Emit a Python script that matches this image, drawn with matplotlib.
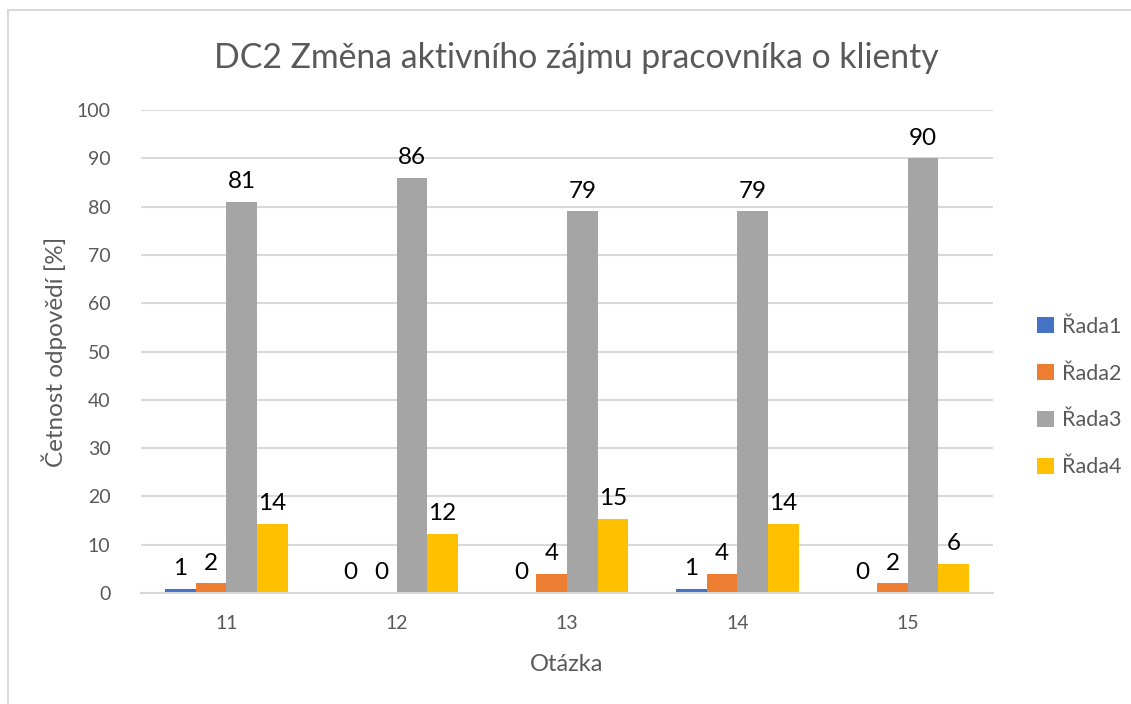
import matplotlib.pyplot as plt
import numpy as np
from matplotlib.patches import Rectangle

# data
questions = ["11", "12", "13", "14", "15"]
series_names = ["Řada1", "Řada2", "Řada3", "Řada4"]
rada1 = [0.9, 0, 0, 0.9, 0]
rada2 = [2.0, 0, 4.0, 4.0, 2.0]
rada3 = [81, 86, 79, 79, 90]
rada4 = [14.3, 12.2, 15.3, 14.3, 6.1]
colors = ["#4472C4", "#ED7D31", "#A5A5A5", "#FFC000"]

plt.rcParams['font.family'] = ['Lato', 'DejaVu Sans']
text_gray = "#595959"
grid_gray = "#D9D9D9"

fig = plt.figure(figsize=(11.31, 7.04), dpi=100)
ax = fig.add_axes([0.1247, 0.1577, 0.7533, 0.686])

# chart border like an exported office chart
fig.patches.append(Rectangle((8 / 1131, -0.1), 1.2, 1.1 - 10 / 704,
                             transform=fig.transFigure, fill=False,
                             edgecolor=grid_gray, linewidth=1.5))

x = np.arange(len(questions))
width = 0.18
all_series = [rada1, rada2, rada3, rada4]
for i, vals in enumerate(all_series):
    offset = (i - 1.5) * width
    bars = ax.bar(x + offset, vals, width, color=colors[i], label=series_names[i])
    ax.bar_label(bars, labels=["%.0f" % v for v in vals], padding=7,
                 fontsize=17.5, color="#000000")

ax.set_xlim(-0.5, len(questions) - 0.5)
ax.set_ylim(0, 100)
ax.set_yticks(range(0, 101, 10))
ax.set_xticks(x)
ax.set_xticklabels(questions)
ax.tick_params(axis='both', length=0, labelsize=14, colors=text_gray)
ax.tick_params(axis='y', pad=22)
ax.tick_params(axis='x', pad=16)
ax.yaxis.grid(True, color=grid_gray, linewidth=1.5)
ax.set_axisbelow(True)
for s in ["top", "right", "left"]:
    ax.spines[s].set_visible(False)
ax.spines["bottom"].set_color(grid_gray)
ax.spines["bottom"].set_linewidth(1.5)

ax.set_xlabel("Otázka", fontsize=17, color=text_gray, labelpad=16)
ax.set_ylabel("Četnost odpovědí [%]", fontsize=17.5, color=text_gray, labelpad=7)
fig.text(576 / 1131, (704 - 58) / 704, "DC2 Změna aktivního zájmu pracovníka o klienty",
         fontsize=24.3, color=text_gray, ha="center", va="center")

leg = ax.legend(loc="center left", bbox_to_anchor=(1018 / 1131, (704 - 397) / 704),
                bbox_transform=fig.transFigure, frameon=False,
                fontsize=15.5, handlelength=0.75, handleheight=0.75,
                labelspacing=1.25, handletextpad=0.4)
for t in leg.get_texts():
    t.set_color(text_gray)

fig.savefig("out.png", dpi=100)
